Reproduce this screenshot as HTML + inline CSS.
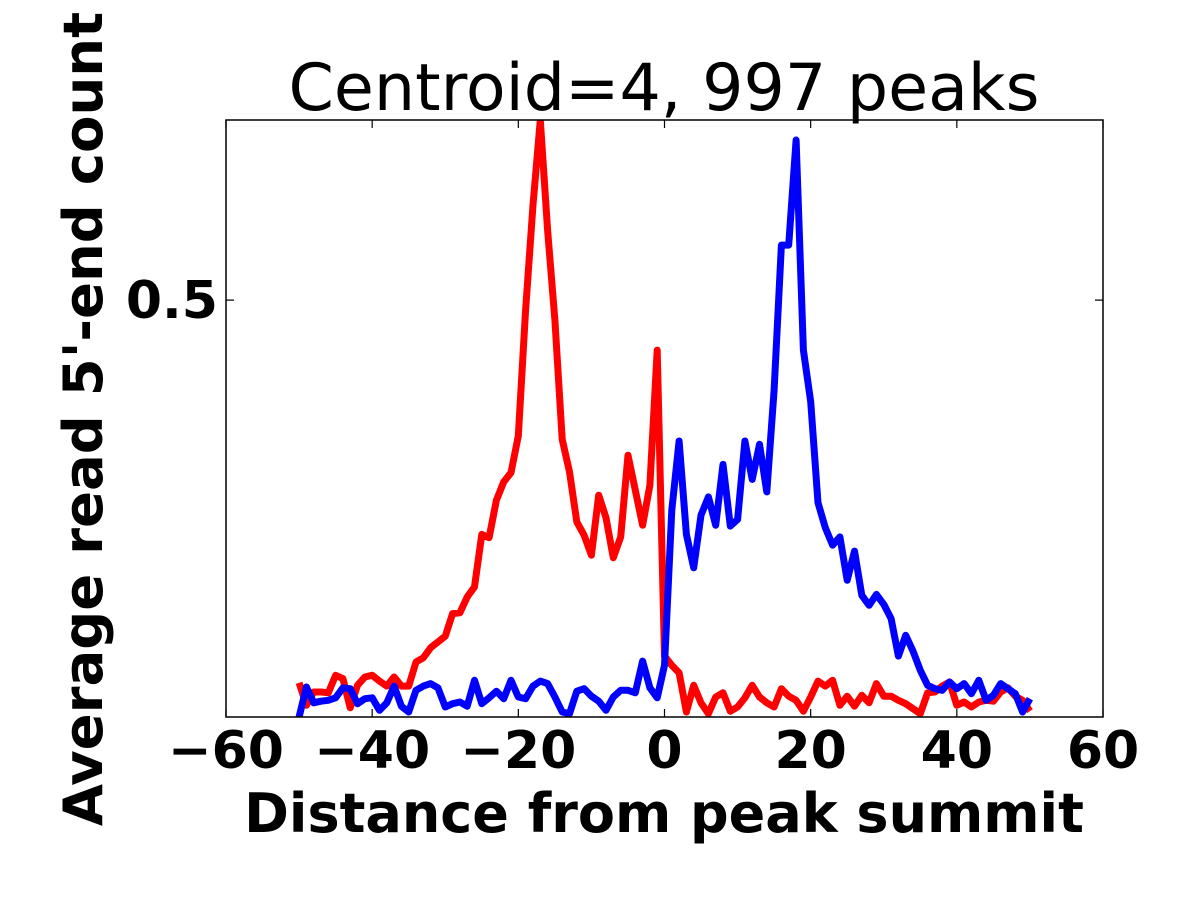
<!DOCTYPE html>
<html><head><meta charset="utf-8"><style>
body{margin:0;background:#fff;}
svg text{font-family:"DejaVu Sans","Liberation Sans",sans-serif;}
</style></head><body>
<svg id="chart" width="1200" height="900" xmlns="http://www.w3.org/2000/svg">
<rect width="1200" height="900" fill="#fff"/>
<text x="664" y="110" font-size="65" text-anchor="middle">Centroid=4, 997 peaks</text>
<g id="plot"></g>
<text x="664" y="832" font-size="54" font-weight="bold" text-anchor="middle">Distance from peak summit</text>
<text transform="translate(102,419) rotate(-90)" font-size="54.5" font-weight="bold" text-anchor="middle">Average read 5'-end count</text>
</svg>
<script>
const xTicks=[-60,-40,-20,0,20,40,60];
const yTicks=[0.5];
const yTickLabels=["0.5"];
const positions=[];for(let i=-50;i<=50;i++)positions.push(i);
const redSeries=[.041,.014,.030,.030,.029,.050,.046,.011,.038,.048,.050,.043,.037,.048,.037,.037,.066,.071,.083,.090,.097,.124,.125,.144,.156,.219,.215,.260,.282,.293,.337,.488,.614,.716,.584,.476,.333,.294,.234,.218,.194,.266,.239,.191,.216,.314,.272,.230,.278,.440,.073,.062,.053,.006,.038,.017,.004,.024,.029,.007,.012,.023,.038,.024,.017,.012,.034,.025,.020,.007,.024,.043,.037,.044,.014,.025,.013,.026,.017,.040,.025,.025,.020,.016,.010,.004,.029,.030,.037,.042,.014,.018,.012,.018,.020,.019,.030,.035,.025,.020,.007];
const blueSeries=[0,.036,.017,.019,.020,.023,.035,.034,.016,.022,.023,.008,.017,.037,.013,.006,.032,.037,.040,.035,.012,.016,.018,.013,.044,.016,.023,.031,.022,.044,.024,.022,.037,.043,.040,.024,.006,.004,.031,.034,.025,.019,.008,.024,.032,.032,.029,.067,.035,.023,.062,.248,.331,.219,.179,.242,.264,.230,.303,.229,.237,.331,.285,.327,.270,.392,.566,.566,.692,.440,.378,.257,.227,.206,.216,.164,.199,.146,.134,.147,.135,.118,.073,.098,.079,.056,.038,.034,.032,.042,.034,.040,.028,.044,.020,.026,.040,.034,.028,.006,.022];
const L=226,R=1103,T=120,B=717,XMIN=-60,XMAX=60,YMIN=0,YMAX=0.716;
const sx=v=>L+(v-XMIN)/(XMAX-XMIN)*(R-L);
const sy=v=>B-(v-YMIN)/(YMAX-YMIN)*(B-T);
const NS="http://www.w3.org/2000/svg";
const g=document.getElementById('plot');
function mk(tag,attrs){const e=document.createElementNS(NS,tag);for(const k in attrs)e.setAttribute(k,attrs[k]);g.appendChild(e);return e;}
const cp=document.createElementNS(NS,'clipPath');cp.setAttribute('id','clip');
const cr=document.createElementNS(NS,'rect');cr.setAttribute('x',L);cr.setAttribute('y',T);cr.setAttribute('width',R-L);cr.setAttribute('height',B-T);cp.appendChild(cr);g.appendChild(cp);
function line(data,color,name){
 const d=data.map((v,i)=>(i?'L':'M')+sx(positions[i]).toFixed(1)+','+sy(v).toFixed(1)).join('');
 const p=mk('path',{d:d,fill:'none',stroke:color,'stroke-width':7,'stroke-linejoin':'round','clip-path':'url(#clip)'});
 
 
}
line(redSeries,'#ff0000','red-series-line');
line(blueSeries,'#0000ff','blue-series-line');
const frame=mk('rect',{x:L,y:T,width:R-L,height:B-T,fill:'none',stroke:'#000','stroke-width':1.5});


xTicks.forEach(t=>{
 const x=sx(t);
 const a=mk('line',{x1:x,x2:x,y1:B,y2:B-8,stroke:'#000','stroke-width':1.2});
 
 
 const b=mk('line',{x1:x,x2:x,y1:T,y2:T+8,stroke:'#000','stroke-width':1.2});
 
 
 const tx=mk('text',{x:x,y:B+51,'font-size':52,'font-weight':'bold','text-anchor':'middle'});
 tx.textContent=(t<0?'\u2212'+(-t):String(t));
 
 
});
yTicks.forEach((t,i)=>{
 const y=sy(t);
 const a=mk('line',{x1:L,x2:L+8,y1:y,y2:y,stroke:'#000','stroke-width':1.2});
 
 
 const b=mk('line',{x1:R,x2:R-8,y1:y,y2:y,stroke:'#000','stroke-width':1.2});
 
 
 const tx=mk('text',{x:L-8,y:y+18,'font-size':52,'font-weight':'bold','text-anchor':'end'});
 tx.textContent=yTickLabels[i];
 
 
});
</script>
</body></html>
